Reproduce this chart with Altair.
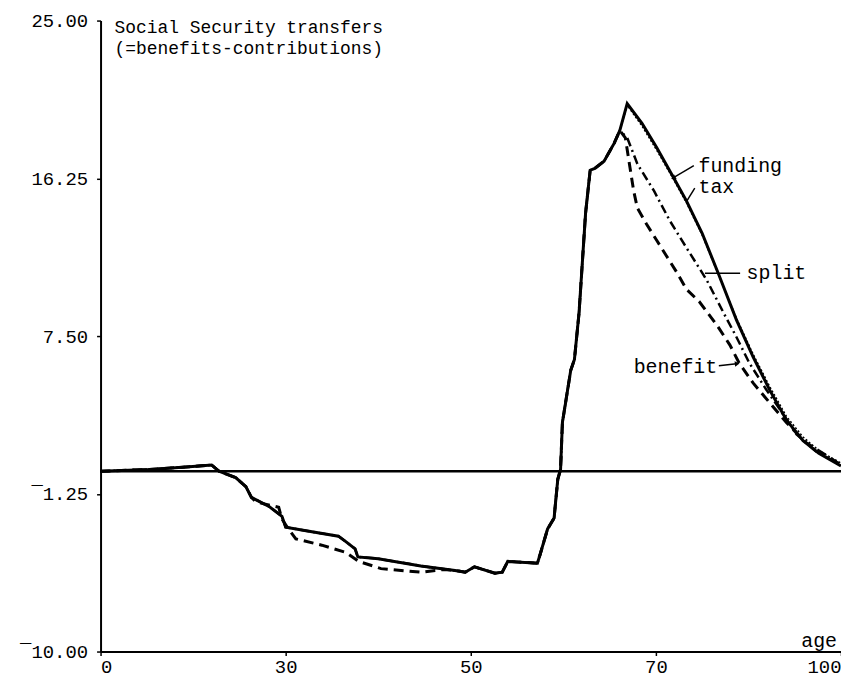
import altair as alt
import pandas as pd
import numpy as np

# ---- data (age, transfer) ----
early_age = [10.0, 15.3, 19.6, 22.0, 22.8, 24.6, 25.7]
early_val = [0.0, 0.1, 0.25, 0.35, 0.0, -0.35, -0.85]

solid_neg_age = [26.3, 28.2, 29.6, 30.0, 32.2, 35.7, 36.5, 37.5, 37.8, 40.0, 44.6, 48.3, 49.4, 50.4, 52.6, 53.4, 54.0, 57.2]
solid_neg_val = [-1.45, -1.95, -2.5, -3.1, -3.3, -3.6, -3.9, -4.3, -4.75, -4.85, -5.25, -5.5, -5.6, -5.3, -5.65, -5.6, -5.0, -5.1]

benefit_neg_age = [26.3, 26.8, 29.25, 29.6, 30.3, 31.1, 33.9, 36.5, 37.9, 40.3, 44.6, 47.0]
benefit_neg_val = [-1.45, -1.7, -2.0, -2.65, -3.2, -3.75, -4.1, -4.5, -5.0, -5.4, -5.6, -5.45]

rise_age = [57.5, 58.3, 59.0, 59.4, 59.7, 59.9, 60.8, 61.2, 61.7, 62.4, 62.9, 63.4, 64.4, 65.5, 66.1]
rise_val = [-4.6, -3.2, -2.6, -0.45, 0.1, 2.7, 5.6, 6.2, 8.8, 14.3, 16.7, 16.8, 17.2, 18.2, 18.9]

funding_age = [66.9, 68.5, 70.1, 71.9, 73.3, 75.0, 76.8, 78.7, 80.5, 82.3, 84.1, 85.9, 87.6, 90.0]
funding_val = [20.4, 19.3, 17.95, 16.3, 15.0, 13.2, 10.9, 8.4, 6.35, 4.5, 2.85, 1.7, 1.0, 0.3]

tax_age = [66.9, 68.5, 70.1, 71.9, 73.3, 75.0, 76.8, 78.7, 80.5, 82.3, 84.1, 85.9, 87.6, 90.0]
tax_val = [20.3, 19.15, 17.8, 16.2, 14.9, 13.1, 10.85, 8.5, 6.5, 4.7, 3.05, 1.9, 1.15, 0.45]

split_age = [66.9, 68.0, 69.8, 71.5, 73.3, 75.5, 77.3, 78.7, 80.1, 81.9, 83.3, 85.2, 87.3, 90.0]
split_val = [18.5, 17.05, 15.55, 13.9, 12.4, 10.6, 8.8, 7.45, 6.0, 4.55, 3.5, 2.05, 1.1, 0.35]

benefit_age = [66.7, 67.2, 67.6, 68.0, 69.0, 70.1, 71.2, 72.3, 73.3, 74.7, 76.6, 78.0, 79.0, 80.5, 82.3, 84.1, 86.2, 90.0]
benefit_val = [18.5, 16.85, 15.55, 14.6, 13.7, 12.8, 11.9, 11.0, 10.1, 9.4, 8.1, 7.0, 6.0, 4.9, 3.8, 2.7, 1.6, 0.35]

x_tick_values = [10, 30, 50, 70, 90]
x_tick_labels = ["0", "30", "50", "70", "100"]
y_tick_values = [-10.0, -1.25, 7.5, 16.25, 25.0]

title_text = ["Social Security transfers", "(=benefits-contributions)"]
title_age = [11.5, 11.5]
title_val = [24.57, 23.42]

ann_text = ["funding", "tax", "split", "benefit", "age"]
ann_age = [74.6, 74.6, 79.8, 67.6, 85.7]
ann_val = [16.95, 15.74, 10.99, 5.8, -9.44]

arrow_from_age = [74.1, 74.2, 79.1, 76.8]
arrow_from_val = [16.95, 15.7, 10.99, 5.85]
arrow_to_age = [71.95, 73.35, 75.3, 78.7]
arrow_to_val = [16.3, 15.0, 10.99, 5.96]
arrow_head = [True, False, False, True]

# ---- build tables ----
def table(ages, vals):
    return pd.DataFrame({"age": ages, "value": vals, "i": range(len(ages))})

shared_age = early_age + solid_neg_age + rise_age
shared_val = early_val + solid_neg_val + rise_val
funding_df = table(shared_age + funding_age, shared_val + funding_val)
tax_df = table(shared_age + tax_age, shared_val + tax_val)
split_df = table(shared_age + split_age, shared_val + split_val)
ben_tail = [(a, v) for a, v in zip(solid_neg_age, solid_neg_val) if a > 47.0]
benefit_df = table(early_age + benefit_neg_age + [a for a, _ in ben_tail] + rise_age + benefit_age,
                   early_val + benefit_neg_val + [v for _, v in ben_tail] + rise_val + benefit_val)

ann = pd.DataFrame({"text": ann_text, "age": ann_age, "value": ann_val})
tit = pd.DataFrame({"text": title_text, "age": title_age, "value": title_val})
arr = pd.DataFrame({"a1": arrow_from_age, "v1": arrow_from_val, "a2": arrow_to_age, "v2": arrow_to_val, "head": arrow_head})
px_x, px_y = 9.3, 18.11
dx = (arr["a2"] - arr["a1"]) * px_x
dy = -(arr["v2"] - arr["v1"]) * px_y
arr["angle"] = (np.degrees(np.arctan2(dx, -dy)) + 360) % 360
heads = arr[arr["head"]]

FONT = "Liberation Mono"
label_expr = " : ".join([f"datum.value == {v} ? '{l}'" for v, l in zip(x_tick_values, x_tick_labels)]) + " : datum.label"

xscale = alt.Scale(domain=[10, 90], nice=False, zero=False)
yscale = alt.Scale(domain=[-10, 25], nice=False, zero=False)

xaxis = alt.Axis(values=x_tick_values, labelExpr=label_expr, title=None, grid=False,
                 domainColor="black", domainWidth=2, tickColor="black", tickWidth=1.5, tickSize=4,
                 labelFont=FONT, labelFontSize=19, labelColor="black", labelPadding=2)
yaxis = alt.Axis(values=y_tick_values,
                 labelExpr="replace(replace(format(datum.value, '.2f'), '\u2212', '\u00af'), '-', '\u00af')",
                 title=None, grid=False,
                 domainColor="black", domainWidth=2, tickColor="black", tickWidth=1.5, tickSize=4,
                 labelFont=FONT, labelFontSize=19, labelColor="black", labelPadding=9)

X = lambda f: alt.X(f, scale=xscale, axis=xaxis)
Y = lambda f: alt.Y(f, scale=yscale, axis=yaxis)

def line(df, width, dash=None):
    kw = dict(color="black", strokeWidth=width)
    if dash:
        kw["strokeDash"] = dash
    return alt.Chart(df).mark_line(**kw).encode(x=X("age:Q"), y=Y("value:Q"), order="i:Q")

zero = alt.Chart(pd.DataFrame({"y": [0.0]})).mark_rule(color="black", strokeWidth=2.5).encode(
    y=Y("y:Q"), x=alt.value(0), x2=alt.value(748))

l_benefit = line(benefit_df, 3, [10, 6])
l_split = line(split_df, 2.5, [9, 4, 2, 4])
l_tax = line(tax_df, 1.5, [2, 2])
l_funding = line(funding_df, 3)

titles = alt.Chart(tit).mark_text(font=FONT, fontSize=18, align="left", baseline="middle", color="black").encode(
    x=X("age:Q"), y=Y("value:Q"), text="text:N")

texts = alt.Chart(ann).mark_text(font=FONT, fontSize=20, align="left", baseline="middle", color="black").encode(
    x=X("age:Q"), y=Y("value:Q"), text="text:N")

arrows = alt.Chart(arr).mark_rule(color="black", strokeWidth=1.5).encode(
    x=X("a1:Q"), y=Y("v1:Q"), x2="a2:Q", y2="v2:Q")

arrowheads = alt.Chart(heads).mark_point(shape="triangle", filled=True, color="black", size=30, opacity=1).encode(
    x=X("a2:Q"), y=Y("v2:Q"), angle=alt.Angle("angle:Q", scale=None))

chart = alt.layer(l_benefit, zero, l_split, l_tax, l_funding, arrows, arrowheads, titles, texts).properties(
    width=744, height=634,
    autosize=alt.AutoSizeParams(type="none"),
    padding={"left": 93, "top": 11, "right": 0, "bottom": 35},
    background="white",
).configure_view(stroke=None)

chart.save("out.html", embed_options={"renderer": "svg", "actions": False})
